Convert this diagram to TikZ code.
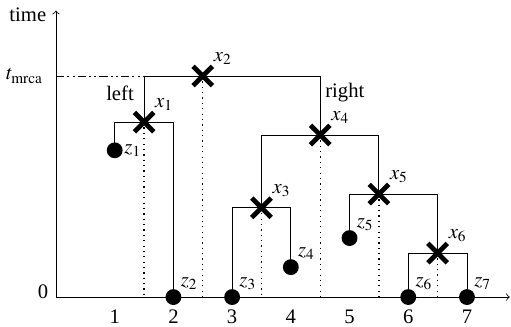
\documentclass[tikz,border=0pt]{standalone}
\usepackage{mathptmx}
\usepackage{fontspec}
\setmainfont{Liberation Serif}
\usetikzlibrary{shapes.misc}
\tikzset{
	mut/.style={cross out,draw,line width=2.3pt,minimum size=0.25cm,inner sep=0pt},
	obs/.style={circle,fill,minimum size=0.27cm,inner sep=0pt},
	lbl/.style={inner sep=0.5pt},
}
\begin{document}
\begin{tikzpicture}
	\useasboundingbox (-0.954,-0.494) rectangle (7.75,5.06);
	\coordinate (o) at (0,0);
	\coordinate (xend) at (7.73,0);
	\coordinate (yend) at (0,4.88);
	\draw[->] (o) -- (xend);
	\draw[->] (o) -- (yend);
	\node at (-0.48,4.8) {time};
	\node at (-0.22,0.09) {0};
	\foreach \x in {1,...,7} {
		\node[inner sep=1pt] at (\x,-0.33) {\x};
	}
	% leaves
	\node[obs,label={[lbl]right:$z_1$}] (z1) at (1,2.5) {};
	\node[obs,label={[lbl]above right:$z_2$}] (z2) at (2,0) {};
	\node[obs,label={[lbl]above right:$z_3$}] (z3) at (3,0) {};
	\node[obs,label={[lbl]above right:$z_4$}] (z4) at (4,0.51) {};
	\node[obs,label={[lbl]above right:$z_5$}] (z5) at (5,1.005) {};
	\node[obs,label={[lbl]above right:$z_6$}] (z6) at (6,0) {};
	\node[obs,label={[lbl]above right:$z_7$}] (z7) at (7,0) {};
	% splits
	\node[mut,label={[lbl]above right:$x_1$}] (x1) at (1.5,2.98) {};
	\node[mut,label={[lbl]above right:$x_2$}] (x2) at (2.5,3.765) {};
	\node[mut,label={[lbl]above right:$x_3$}] (x3) at (3.5,1.52) {};
	\node[mut,label={[lbl]above right:$x_4$}] (x4) at (4.5,2.76) {};
	\node[mut,label={[lbl]above right:$x_5$}] (x5) at (5.5,1.755) {};
	\node[mut,label={[lbl]above right:$x_6$}] (x6) at (6.5,0.75) {};
	\foreach \p/\a/\b in {x2/x1/x4,x1/z1/z2,x4/x3/x5,x3/z3/z4,x5/z5/x6,x6/z6/z7} {
		\draw (\p.center) -| (\a.center);
		\draw (\p.center) -| (\b.center);
	}
	\foreach \n in {x1,x2,x3,x4,x5,x6} {
		\draw[dotted,line width=0.6pt] (\n.center) -- (\n.center |- o);
	}
	\draw[dash pattern=on 4pt off 1.5pt on 1pt off 1.5pt on 1pt off 1.5pt] (o |- x2) -- (x1 |- x2);
	\node[anchor=east] at (-0.1,3.765) {$t_\mathrm{mrca}$};
	\node at (1.09,3.475) {left};
	\node at (4.92,3.475) {right};
\end{tikzpicture}
\end{document}
